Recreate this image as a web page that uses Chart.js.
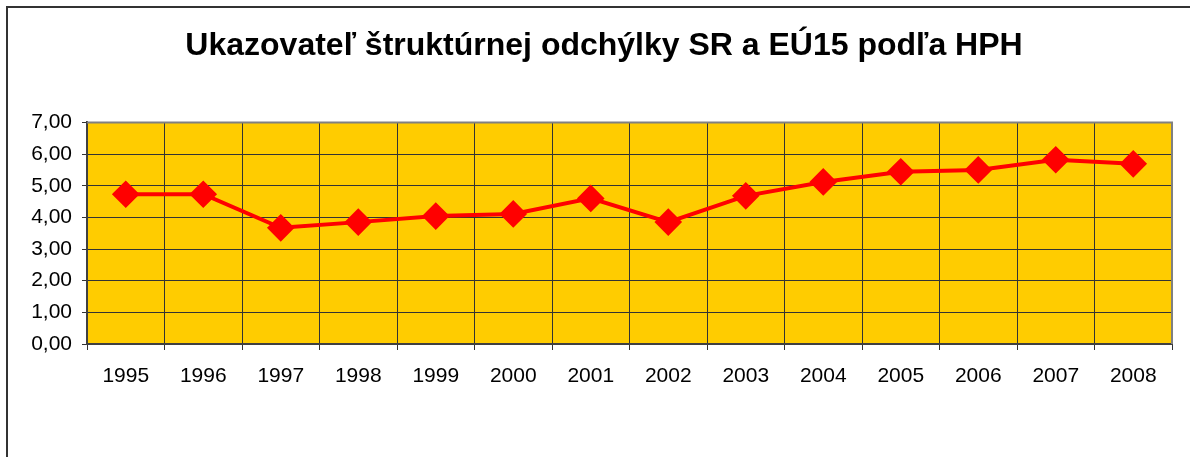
<!DOCTYPE html>
<html>
<head>
<meta charset="utf-8">
<script src="https://cdn.jsdelivr.net/npm/chart.js@4/dist/chart.umd.min.js"></script>
<style>
  html, body { margin: 0; padding: 0; background: #fff; overflow: hidden; }
  #wrap { position: relative; width: 1190px; height: 457px; }
  #frame { position: absolute; left: 6px; top: 6px; width: 1300px; height: 600px; border: 2px solid #333; }
  canvas { position: absolute; left: 0; top: 0; }
</style>
</head>
<body>
<div id="wrap">
  <div id="frame"></div>
  <canvas id="mainChart" width="1190" height="457"></canvas>
</div>
<script>
// Data
const years = ["1995", "1996", "1997", "1998", "1999", "2000", "2001", "2002", "2003", "2004", "2005", "2006", "2007", "2008"];
const deviation = [4.73, 4.73, 3.67, 3.85, 4.04, 4.11, 4.60, 3.85, 4.68, 5.12, 5.44, 5.50, 5.82, 5.69];
const titleText = "Ukazovateľ štruktúrnej odchýlky SR a EÚ15 podľa HPH";

// Yellow plot area + grey top/right border
const plotArea = {
  id: "plotArea",
  beforeDraw(chart) {
    const { ctx, chartArea: a } = chart;
    ctx.save();
    ctx.fillStyle = "#FFCC00";
    ctx.fillRect(a.left, a.top, a.right - a.left, a.bottom - a.top);
    ctx.restore();
  },
  beforeDatasetsDraw(chart) {
    const { ctx, chartArea: a } = chart;
    ctx.save();
    ctx.strokeStyle = "#808080";
    ctx.lineWidth = 2;
    ctx.beginPath();
    ctx.moveTo(a.left, a.top);
    ctx.lineTo(a.right, a.top);
    ctx.lineTo(a.right, a.bottom);
    ctx.stroke();
    ctx.restore();
  },
};

let config = {
  type: "line",
  data: {
    labels: years,
    datasets: [
      {
        data: deviation,
        borderColor: "#FF0000",
        backgroundColor: "#FF0000",
        borderWidth: 4,
        pointStyle: "rectRot",
        pointRadius: 11,
        pointHoverRadius: 11,
        tension: 0,
      },
    ],
  },
  options: {
    responsive: false,
    animation: false,
    layout: { padding: { left: 18, right: 0, top: 0, bottom: 0 } },
    plugins: {
      legend: { display: false },
      tooltip: { enabled: false },
      title: {
        display: true,
        text: titleText,
        color: "#000",
        font: { family: "'Liberation Sans', Arial, sans-serif", size: 32, weight: "bold", lineHeight: 1.2 },
        padding: { top: 27, bottom: 57 },
      },
    },
    scales: {
      x: {
        offset: true,
        grid: { offset: true, color: "#333", lineWidth: 1, tickLength: 6, drawTicks: true },
        border: { color: "#404040", width: 2 },
        ticks: {
          color: "#000",
          padding: 14,
          maxRotation: 0,
          autoSkip: false,
          font: { family: "'Liberation Sans', Arial, sans-serif", size: 21 },
        },
        afterFit(scale) { scale.height = 113; },
      },
      y: {
        min: 0,
        max: 7,
        grid: { color: "#333", lineWidth: 1, tickLength: 5 },
        border: { color: "#404040", width: 2 },
        ticks: {
          stepSize: 1,
          color: "#000",
          padding: 10,
          font: { family: "'Liberation Sans', Arial, sans-serif", size: 21 },
          callback: (v) => v.toFixed(2).replace(".", ","),
        },
        afterFit(scale) { scale.width = 69; },
      },
      // spacer on the right so the plot stops short of the edge
      y2: {
        position: "right",
        min: 0,
        max: 7,
        grid: { display: false },
        border: { display: false },
        ticks: { display: false },
        afterFit(scale) { scale.width = 18; },
      },
    },
  },
  plugins: [plotArea],
};

let mainChart = new Chart(document.getElementById("mainChart"), config);
</script>
</body>
</html>
